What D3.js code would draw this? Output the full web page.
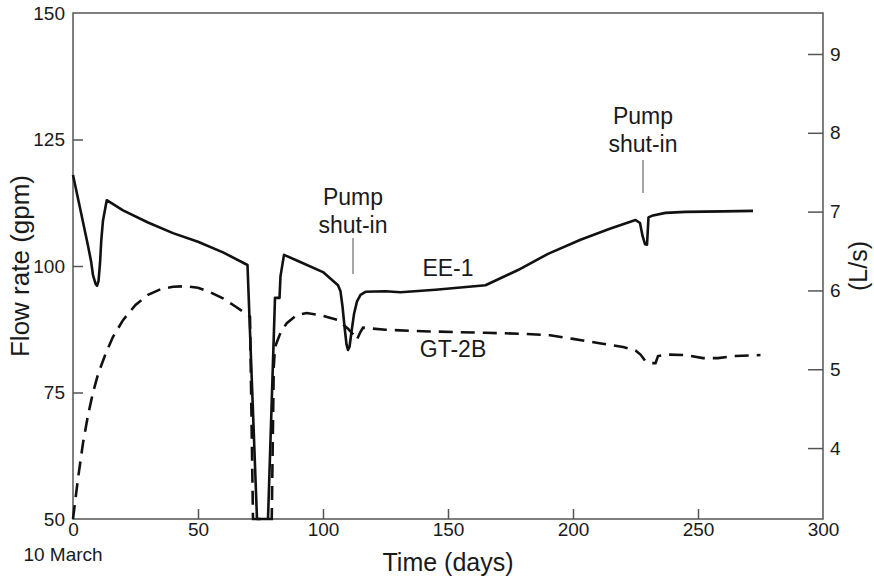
<!DOCTYPE html>
<html>
<head>
<meta charset="utf-8">
<script src="https://cdn.jsdelivr.net/npm/d3@7"></script>
<style>
  body { margin: 0; background: #fff; }
  text { font-family: Arial, "Liberation Sans", sans-serif; fill: #1a1a1a; }
</style>
</head>
<body>
<svg id="chart" width="874" height="576"></svg>
<script>
// tick values
var dayTicks = [0, 50, 100, 150, 200, 250, 300];
var gpmTicks = [50, 75, 100, 125, 150];
var lpsTicks = [4, 5, 6, 7, 8, 9];

// EE-1 (solid)
var eeDays = [0, 3, 6, 7.2, 8, 9, 9.6, 10.2, 10.8, 11.3, 12, 13.5, 20, 30, 40, 50, 60, 69.8,
              73.6, 78, 80.8, 82.6, 83, 84.4, 90, 100, 106, 107, 107.8, 108.6, 109.4, 110,
              110.6, 111.4, 112.4, 113.6, 115, 117, 125, 131, 145, 165, 178, 190, 203, 215,
              225, 226.8, 227.8, 228.8, 229.6, 230.2, 232, 237, 245, 260, 272];
var eeFlow = [118, 111, 104, 101, 98.2, 96.5, 96.1, 97, 100.5, 105, 109, 113, 111, 108.6, 106.5, 104.8, 102.7, 100.2,
              50, 50, 93.7, 93.7, 98, 102.2, 101, 98.8, 96.2, 95, 92, 88, 84.5, 83.4,
              84, 87, 90.5, 93, 94.3, 94.9, 95, 94.8, 95.3, 96.2, 99.2, 102.4, 105.2, 107.4,
              109.1, 108.5, 106, 104.3, 104.2, 109.6, 110, 110.5, 110.7, 110.8, 110.9];

// GT-2B (dashed)
var gtDays = [0, 2, 4, 6, 8, 10, 13, 16, 20, 25, 30, 35, 40, 45, 50, 55, 60, 65, 70.8,
              72, 79.5, 80.3, 80.8, 83, 85.5, 89.5, 93.5, 98.8, 106, 110, 112, 113.5, 115, 116,
              125, 140, 165, 180, 190.8, 200, 210, 220, 225, 227, 229, 231, 233, 234, 238,
              245, 252, 258, 265, 275];
var gtFlow = [50, 58, 65, 70.5, 75, 78.6, 82.6, 86, 89.3, 92.3, 94.3, 95.4, 95.9, 96, 95.7, 94.8, 93.6, 92, 90,
              50, 50, 80, 84, 86.8, 88.7, 90.3, 90.7, 90.3, 89.3, 87.6, 86.5, 85.4, 87, 87.8,
              87.4, 87.1, 86.8, 86.6, 86.3, 85.6, 84.8, 84, 83.3, 82.5, 81.2, 80.8, 80.8, 82.2, 82.5,
              82.4, 81.8, 81.8, 82.2, 82.4];

var svg = d3.select("#chart");
var plotL = 73, plotR = 823, plotT = 13, plotB = 519;

var x = d3.scaleLinear().domain([0, 300]).range([plotL, plotR]);
var y = d3.scaleLinear().domain([50, 150]).range([plotB, plotT]);
var yR = d3.scaleLinear().domain([3.1, 9.52]).range([plotB, plotT]);

var axisColor = "#555";

// frame
svg.append("rect")
  .attr("x", plotL).attr("y", plotT)
  .attr("width", plotR - plotL).attr("height", plotB - plotT)
  .attr("fill", "none").attr("stroke", axisColor).attr("stroke-width", 1.5);

// axes
var xAxis = svg.append("g").attr("transform", "translate(0," + plotB + ")")
  .call(d3.axisBottom(x).tickValues(dayTicks).tickSizeInner(-10).tickSizeOuter(0).tickPadding(4));
var yAxis = svg.append("g").attr("transform", "translate(" + plotL + ",0)")
  .call(d3.axisLeft(y).tickValues(gpmTicks).tickSizeInner(-10).tickSizeOuter(0).tickPadding(8));
var yAxisR = svg.append("g").attr("transform", "translate(" + plotR + ",0)")
  .call(d3.axisRight(yR).tickValues(lpsTicks).tickFormat(d3.format("d"))
    .tickSizeInner(-15).tickSizeOuter(0).tickPadding(7));

[xAxis, yAxis, yAxisR].forEach(function(g) {
  g.select(".domain").remove();
  g.selectAll(".tick line").attr("stroke", axisColor).attr("stroke-width", 1.5);
  g.selectAll(".tick text").attr("font-size", 19).attr("fill", "#1a1a1a")
    .style("font-family", "Arial, 'Liberation Sans', sans-serif");
});
// end ticks sit on the frame
xAxis.selectAll(".tick line").filter(function(d) { return d === 0 || d === 300; }).remove();
yAxis.selectAll(".tick line").filter(function(d) { return d === 50 || d === 150; }).remove();

// curves
var eeLine = d3.line()
  .x(function(d, i) { return x(eeDays[i]); })
  .y(function(d) { return y(d); });
var gtLine = d3.line()
  .x(function(d, i) { return x(gtDays[i]); })
  .y(function(d) { return y(d); });

svg.append("path")
  .attr("d", gtLine(gtFlow))
  .attr("fill", "none").attr("stroke", "#111").attr("stroke-width", 2.6)
  .attr("stroke-dasharray", "14,8");
svg.append("path")
  .attr("d", eeLine(eeFlow))
  .attr("fill", "none").attr("stroke", "#111").attr("stroke-width", 2.6)
  .attr("stroke-linejoin", "round");

// axis titles
svg.append("text")
  .attr("transform", "translate(29," + ((plotT + plotB) / 2) + ") rotate(-90)")
  .attr("text-anchor", "middle").attr("font-size", 26)
  .text("Flow rate (gpm)");
svg.append("text")
  .attr("transform", "translate(867," + ((plotT + plotB) / 2) + ") rotate(-90)")
  .attr("text-anchor", "middle").attr("font-size", 25)
  .text("(L/s)");
svg.append("text")
  .attr("x", x(150)).attr("y", 571)
  .attr("text-anchor", "middle").attr("font-size", 25)
  .text("Time (days)");
svg.append("text")
  .attr("x", 63).attr("y", 561)
  .attr("text-anchor", "middle").attr("font-size", 19)
  .text("10 March");

// series labels
svg.append("text").attr("x", x(150)).attr("y", 276)
  .attr("text-anchor", "middle").attr("font-size", 23).text("EE-1");
svg.append("text").attr("x", x(152)).attr("y", 357)
  .attr("text-anchor", "middle").attr("font-size", 23).text("GT-2B");

// pump shut-in notes
var notes = [
  { day: 112, textY: 205, lineTop: 238, lineBottom: 274 },
  { day: 228, textY: 124, lineTop: 160, lineBottom: 193 }
];
notes.forEach(function(n) {
  var g = svg.append("g");
  g.append("text").attr("x", x(n.day)).attr("y", n.textY)
    .attr("text-anchor", "middle").attr("font-size", 23).text("Pump");
  g.append("text").attr("x", x(n.day)).attr("y", n.textY + 28)
    .attr("text-anchor", "middle").attr("font-size", 23).text("shut-in");
  g.append("line")
    .attr("x1", x(n.day)).attr("x2", x(n.day))
    .attr("y1", n.lineTop).attr("y2", n.lineBottom)
    .attr("stroke", "#777").attr("stroke-width", 1.3);
});
</script>
</body>
</html>
